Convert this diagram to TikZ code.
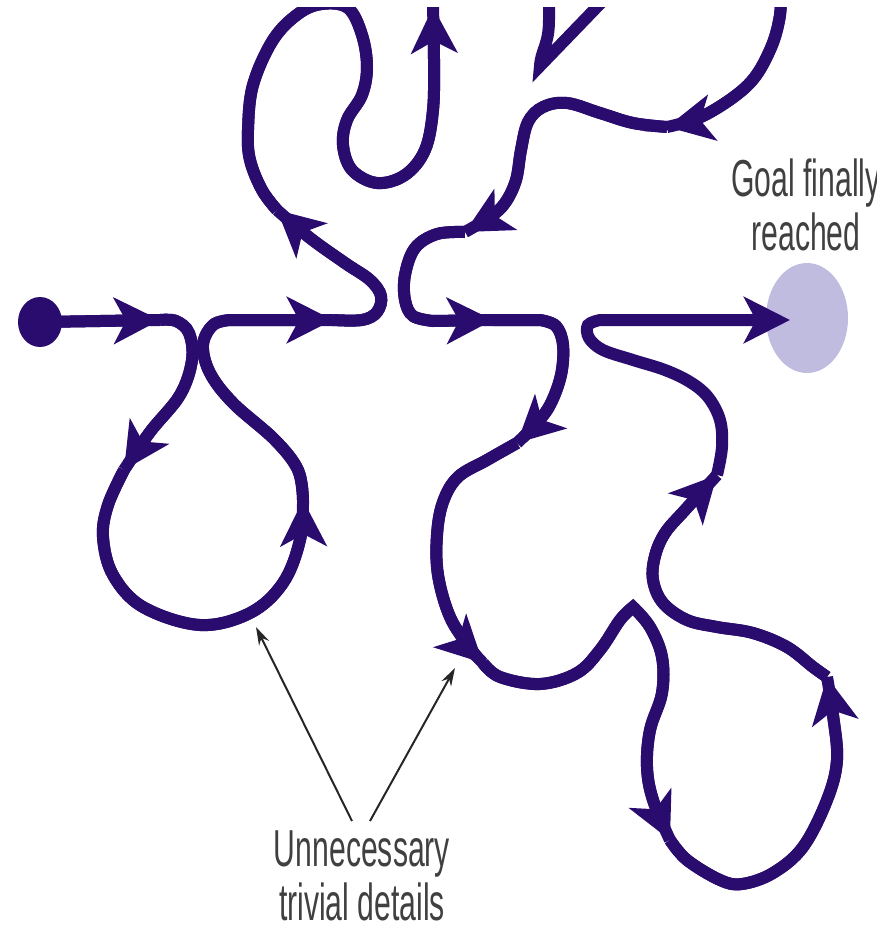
\documentclass[tikz,border=0pt]{standalone}
\usepackage{fontspec}
\usetikzlibrary{arrows.meta,shapes.geometric}
\newfontfamily\lblfont{Liberation Sans}[FakeStretch=0.58]
\definecolor{routecol}{RGB}{42,12,110}
\definecolor{goalcol}{RGB}{192,188,224}

\begin{document}
\begin{tikzpicture}[
  x=1pt,y=-1pt,
  plain/.style={draw=routecol,line width=12pt},
  % a leg of the road: the line runs on through its head
  route/.style={plain,postaction={draw=routecol,line width=12pt,
    -{Stealth[length=46pt,width=46pt,inset=12pt]}}},
  lastleg/.style={plain,-{Stealth[length=46pt,width=46pt,inset=12pt]}},
  spot/.style={ellipse,inner sep=0pt,draw=none},
  pointer/.style={draw=black!85,line width=2pt,-{Stealth[length=18pt,width=11pt]}},
  lbl/.style={font=\lblfont\fontsize{52}{54}\selectfont,text=black!75,
    align=center,inner sep=0pt},
]

%--- geometry ----------------------------------------------------------------
\def\mainy{320}        % the straight line from start to goal
\def\tens{0.6}         % tension of the smooth legs

\useasboundingbox (0,0) rectangle (891,930);
\clip (0,7) rectangle (876,930);

%--- start and goal ----------------------------------------------------------
\node[spot,fill=goalcol,minimum width=82pt,minimum height=110pt] (goal) at (807,318) {};
\node[spot,fill=routecol,minimum width=44pt,minimum height=50pt] (start) at (40,322) {};

%--- the road ----------------------------------------------------------------
\draw[route] (start.center) -- (160,\mainy);
% first detour: the lower left loop
\draw[route] plot[smooth,tension=\tens] coordinates {(160,\mainy) (176,321) (189,333)
  (192,360) (180,395) (150,432) (124,470)};
\draw[route] plot[smooth,tension=\tens] coordinates {(124,470) (108,505) (103,537)
  (113,575) (143,607) (200,625) (250,613) (283,583) (300,540) (303,500)};
\draw[route] plot[smooth,tension=\tens] coordinates {(303,500) (298,470) (275,440)
  (233,403) (210,373) (203,345) (213,325) (230,\mainy)} -- (333,\mainy);
% second detour: up and out of sight
\draw[route] plot[smooth,tension=\tens] coordinates {(333,\mainy) (362,\mainy) (377,312)
  (381,296) (370,280) (345,263) (310,238) (277,210)};
\draw[route] plot[smooth,tension=\tens] coordinates {(277,210) (262,190) (250,160)
  (248,130) (253,85) (273,40) (298,14) (322,4) (348,8) (362,35) (367,67) (362,95)
  (347,120) (343,145) (352,170) (377,183) (405,175) (425,150) (433,110) (434,60) (433,7)};
\draw[plain] (549,-20) -- (549,20) .. controls (549,45) and (541,50) .. (540,66) -- (623,-20);
\draw[route] plot[smooth,tension=\tens] coordinates {(780,-15) (780,15) (770,50)
  (748,85) (705,115) (667,127)};
\draw[route] plot[smooth,tension=\tens] coordinates {(667,127) (633,123) (600,113)
  (567,103) (543,107) (528,122) (521,150) (516,180) (505,203) (490,217) (465,232)};
\draw[route] plot[smooth,tension=\tens] coordinates {(465,232) (437,234) (415,248)
  (405,275) (405,300) (413,316) (433,321)} -- (493,\mainy);
% third detour: the long way round at the bottom
\draw[route] (493,\mainy) -- (540,\mainy) -- plot[smooth,tension=\tens] coordinates {(540,\mainy)
  (556,326) (563,345) (561,375) (550,405) (535,425) (517,443)};
\draw[route] plot[smooth,tension=\tens] coordinates {(517,443) (487,460) (458,477)
  (443,502) (437,535) (438,575) (450,617) (470,648) (483,663)};
\draw[route] plot[smooth,tension=\tens] coordinates {(483,663) (500,677) (540,684)
  (577,673) (600,650) (620,620) (633,607)}
  -- plot[smooth,tension=\tens] coordinates {(633,607) (650,627) (662,657) (662,693)
  (650,730) (647,767) (653,800) (670,840)};
\draw[route] plot[smooth,tension=\tens] coordinates {(670,840) (687,860) (720,880)
  (742,884) (773,873) (803,847) (827,800) (837,760) (833,715) (827,677)};
\draw[route] plot[smooth,tension=\tens] coordinates {(827,677) (813,667) (787,647)
  (753,633) (717,627) (687,620) (663,603) (653,580) (655,556) (665,533) (685,510) (717,475)};
\draw[lastleg] plot[smooth,tension=\tens] coordinates {(717,475) (722,447) (720,420)
  (708,397) (690,382) (665,370) (633,360) (603,350) (589,338) (588,325) (600,\mainy)}
  -- (790,\mainy);

%--- labels ------------------------------------------------------------------
\node[lbl,anchor=base] (goaltext) at (806,250) {Goal finally\\reached};
\node[lbl,anchor=base] (details) at (362,920) {Unnecessary\\trivial details};

\coordinate (lefttip) at (256,627);
\coordinate (righttip) at (455,668);
\draw[pointer] ([xshift=-10pt,yshift=9pt]details.north) -- (lefttip);
\draw[pointer] ([xshift=8pt,yshift=9pt]details.north) -- (righttip);

\end{tikzpicture}
\end{document}
